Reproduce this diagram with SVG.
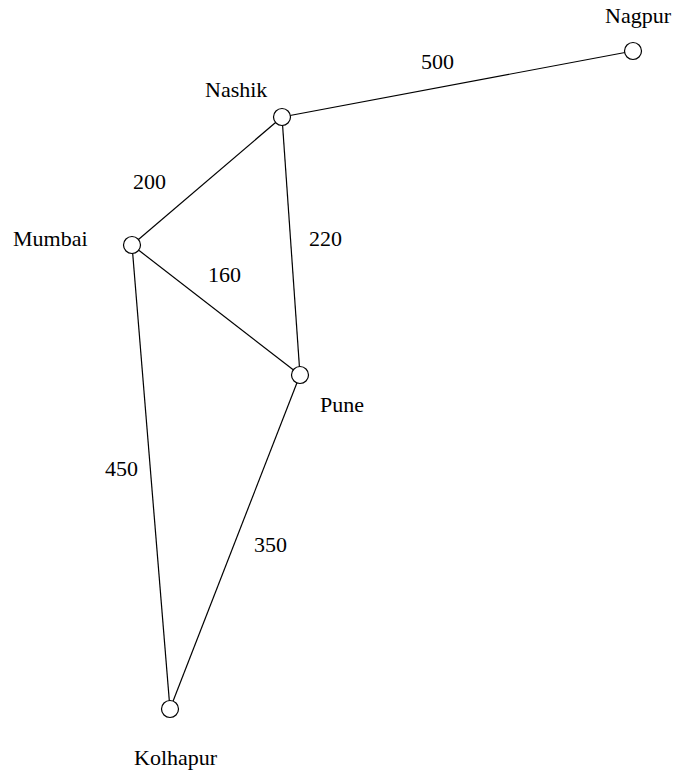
<svg xmlns="http://www.w3.org/2000/svg" width="674" height="771" viewBox="0 0 674 771">
  <style>
    .edge { stroke: #000; stroke-width: 1.2; fill: none; }
    .city { fill: #fff; stroke: #000; stroke-width: 1.2; }
    text { font-family: "Liberation Serif", "Times New Roman", serif; font-size: 22px; fill: #000; }
  </style>
  <rect width="674" height="771" fill="#fff"/>
  <g id="connectors">
    <line class="edge" x1="282" y1="117" x2="633" y2="51"/>
    <line class="edge" x1="282" y1="117" x2="132" y2="245"/>
    <line class="edge" x1="282" y1="117" x2="300" y2="375"/>
    <line class="edge" x1="132" y1="245" x2="300" y2="375"/>
    <line class="edge" x1="132" y1="245" x2="170" y2="709"/>
    <line class="edge" x1="300" y1="375" x2="170" y2="709"/>
    <text x="421" y="69">500</text>
    <text x="133" y="189">200</text>
    <text x="309" y="246">220</text>
    <text x="208" y="282">160</text>
    <text x="105" y="476">450</text>
    <text x="254" y="552">350</text>
  </g>
  <g id="nagpur">
    <circle class="city" cx="633" cy="51" r="8.5"/>
    <text x="605" y="23">Nagpur</text>
  </g>
  <g id="nashik">
    <circle class="city" cx="282" cy="117" r="8.5"/>
    <text x="205" y="97">Nashik</text>
  </g>
  <g id="mumbai">
    <circle class="city" cx="132" cy="245" r="8.5"/>
    <text x="13" y="246">Mumbai</text>
  </g>
  <g id="pune">
    <circle class="city" cx="300" cy="375" r="8.5"/>
    <text x="320" y="412">Pune</text>
  </g>
  <g id="kolhapur">
    <circle class="city" cx="170" cy="709" r="8.5"/>
    <text x="134" y="765">Kolhapur</text>
  </g>
</svg>
